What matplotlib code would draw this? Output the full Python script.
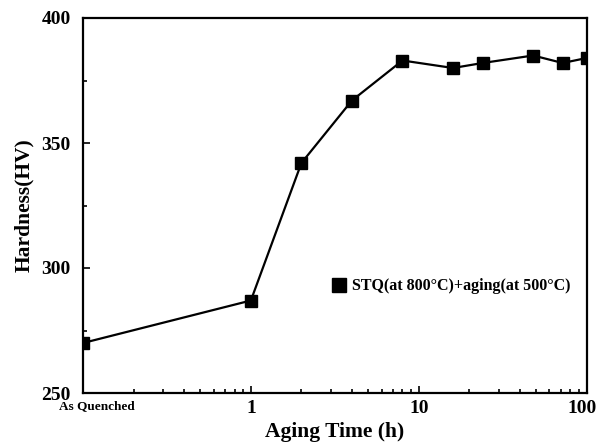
import matplotlib
matplotlib.use('Agg')

import matplotlib.pyplot as plt
import matplotlib.transforms as mtransforms
from matplotlib.ticker import FixedLocator, LogLocator, NullFormatter

# --- data ---
aging_time = [0.1, 1, 2, 4, 8, 16, 24, 48, 72, 100]   # h, 0.1 stands for "As Quenched"
hardness   = [270, 287, 342, 367, 383, 380, 382, 385, 382, 384]  # HV
xtick_vals   = [0.1, 1, 10, 100]
xtick_labels = ['As Quenched', '1', '10', '100']
ytick_vals   = [250, 300, 350, 400]
series_label = 'STQ(at 800\u00b0C)+aging(at 500\u00b0C)'

plt.rcParams['font.family'] = 'Liberation Serif'
plt.rcParams['font.weight'] = 'bold'

fig = plt.figure(figsize=(5.96, 4.43), dpi=100)
ax = fig.add_axes([83/596, 50/443, 504/596, 375/443])

line, = ax.plot(aging_time, hardness, color='black', linewidth=1.6, marker='s',
                markersize=8.5, label=series_label)
line.set_clip_path(ax.patch)

ax.set_xscale('log')
ax.set_xlim(0.1, 100.5)
ax.set_ylim(250, 400)

ax.xaxis.set_major_locator(FixedLocator(xtick_vals))
ax.set_xticklabels(xtick_labels)
ax.xaxis.set_minor_locator(LogLocator(base=10, subs=range(2, 10)))
ax.xaxis.set_minor_formatter(NullFormatter())
ax.yaxis.set_major_locator(FixedLocator(ytick_vals))
ax.yaxis.set_minor_locator(FixedLocator([275, 325, 375]))

ax.tick_params(which='both', direction='in', width=1.2)
ax.tick_params(which='major', length=5, labelsize=14)
ax.tick_params(which='minor', length=3)
ax.tick_params(axis='x', which='major', pad=5)
ax.tick_params(axis='y', which='major', pad=9)
for lab in ax.get_xticklabels():
    lab.set_fontweight('bold')
    if lab.get_text() == 'As Quenched':
        lab.set_fontsize(9.5)
        lab.set_transform(lab.get_transform() +
                          mtransforms.ScaledTranslation(14/100, 0, fig.dpi_scale_trans))
    if lab.get_text() == '100':
        lab.set_transform(lab.get_transform() +
                          mtransforms.ScaledTranslation(-5/100, 0, fig.dpi_scale_trans))
for lab in ax.get_yticklabels():
    lab.set_fontweight('bold')

for sp in ax.spines.values():
    sp.set_linewidth(1.6)

ax.set_xlabel('Aging Time (h)', fontsize=15.5, fontweight='bold', labelpad=4)
ax.set_ylabel('Hardness(HV)', fontsize=15.5, fontweight='bold', labelpad=5)

ax.legend(loc='center right', bbox_to_anchor=(0.995, 0.285), frameon=False,
          handlelength=0.8, handletextpad=0.4, markerscale=1.25,
          prop={'size': 11.5, 'weight': 'bold', 'family': 'Liberation Serif'})
leg = ax.get_legend()
for h in leg.get_lines():
    h.set_linestyle('none')

fig.savefig('out.png', dpi=100)
